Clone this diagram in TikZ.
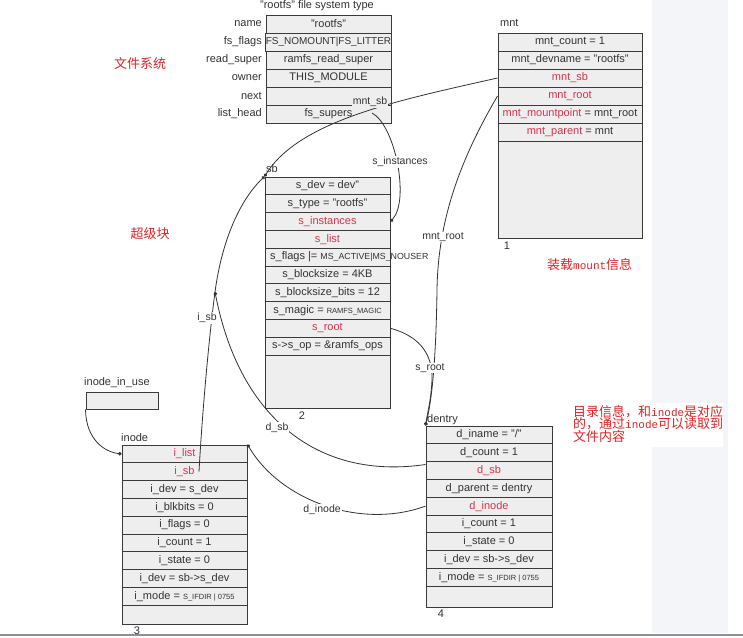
\documentclass[tikz,border=0pt]{standalone}
\usepackage{fontspec}
\setmainfont{Liberation Sans}
\newfontfamily\cjk{Noto Sans CJK SC}
\newfontfamily\monof{Liberation Mono}
\usetikzlibrary{arrows.meta,calc}
\definecolor{cellc}{HTML}{EEEEEE}
\definecolor{linec}{HTML}{3A3A3A}
\definecolor{txtc}{HTML}{333333}
\definecolor{fred}{HTML}{D8344C}
\definecolor{cred}{HTML}{E42222}
\definecolor{panelc}{HTML}{F3F5F8}
\definecolor{connc}{HTML}{333333}
\definecolor{bottomc}{HTML}{8C9099}
\newcommand{\smtxt}[1]{{\fontsize{7.5}{9}\selectfont #1}}
\newcommand{\rf}[1]{\textcolor{fred}{#1}}
\begin{document}
\begin{tikzpicture}[x=1pt,y=-1pt,
 cell/.style={draw=linec, fill=cellc, line width=1pt, minimum height=17.8pt, inner sep=0pt, text=txtc, font=\fontsize{11}{13}\selectfont},
 fscell/.style={cell, minimum width=125pt, minimum height=18pt},
 mntcell/.style={cell, minimum width=144pt, minimum height=18pt},
 sbcell/.style={cell, minimum width=125pt},
 incell/.style={cell, minimum width=125pt},
 decell/.style={cell, minimum width=126pt},
 lbl/.style={text=txtc, inner sep=0pt, font=\fontsize{11}{13}\selectfont},
 clabel/.style={fill=white, text=txtc, inner sep=1pt, font=\fontsize{10.5}{12}\selectfont},
 conn/.style={draw=connc, line width=0.8pt, -{Circle[length=3.5pt]}},
 zh/.style={text=cred, inner sep=0pt, font=\cjk\fontsize{13}{12.5}\selectfont},
]
\useasboundingbox (0,0) rectangle (743,637);
\fill[white] (0,0) rectangle (743,637);
\fill[panelc] (652,0) rectangle (728,633);
\fill[white] (570,403) rectangle (723,447);
\draw[bottomc, line width=2pt] (0,635) -- (743,635);

% ---- file system type table
\node[lbl] (fstitle) at (317,6) {"rootfs" file system type};
\node[fscell] (fs1) at (328.5,24) {"rootfs"};
\node[fscell, font=\fontsize{10}{12}\selectfont] (fs2) at (328.5,42) {FS\_NOMOUNT|FS\_LITTER};
\node[fscell] (fs3) at (328.5,60) {ramfs\_read\_super};
\node[fscell] (fs4) at (328.5,78) {THIS\_MODULE};
\node[fscell] (fs5) at (328.5,96) {};
\node[fscell] (fs6) at (328.5,114) {fs\_supers};
\node[lbl, anchor=east] (fl1) at (262,24) {name};
\node[lbl, anchor=east] (fl2) at (262,42) {fs\_flags};
\node[lbl, anchor=east] (fl3) at (262,60) {read\_super};
\node[lbl, anchor=east] (fl4) at (262,78) {owner};
\node[lbl, anchor=east] (fl5) at (262,96) {next};
\node[lbl, anchor=east] (fl6) at (262,114) {list\_head};

% ---- mnt table
\node[lbl, anchor=west] (mntlbl) at (500,23) {mnt};
\node[mntcell] (mnt1) at (570,42) {mnt\_count = 1};
\node[mntcell] (mnt2) at (570,60) {mnt\_devname = "rootfs"};
\node[mntcell] (mnt3) at (570,78) {\rf{mnt\_sb}};
\node[mntcell] (mnt4) at (570,96) {\rf{mnt\_root}};
\node[mntcell] (mnt5) at (570,114) {\rf{mnt\_mountpoint} = mnt\_root};
\node[mntcell] (mnt6) at (570,132) {\rf{mnt\_parent} = mnt};
\node[mntcell, minimum height=97pt] (mnt7) at (570,189.5) {};
\node[lbl] (mntnum) at (507,246) {1};

% ---- super block table
\node[lbl, anchor=west] (sblbl) at (266,169) {sb};
\node[sbcell] (sb1) at (327.5,185.9) {s\_dev = dev"};
\node[sbcell] (sb2) at (327.5,203.7) {s\_type = "rootfs"};
\node[sbcell] (sb3) at (327.5,221.5) {\rf{s\_instances}};
\node[sbcell] (sb4) at (327.5,239.3) {\rf{s\_list}};
\node[sbcell] (sb5) at (327.5,257.1) {};
\node[lbl, anchor=west] (sb5t) at (270,257.1) {s\_flags |= \smtxt{\fontsize{8.8}{10}\selectfont MS\_ACTIVE|MS\_NOUSER}};
\node[sbcell] (sb6) at (327.5,274.9) {s\_blocksize = 4KB};
\node[sbcell] (sb7) at (327.5,292.7) {s\_blocksize\_bits = 12};
\node[sbcell] (sb8) at (327.5,310.5) {s\_magic = \smtxt{RAMFS\_MAGIC}};
\node[sbcell] (sb9) at (327.5,328.3) {\rf{s\_root}};
\node[sbcell] (sb10) at (327.5,346.1) {s->s\_op = \&ramfs\_ops};
\node[sbcell, minimum height=53pt] (sb11) at (327.5,381.5) {};
\node[lbl] (sbnum) at (302,416) {2};

% ---- inode_in_use
\node[lbl, anchor=west] (iulbl) at (84,383) {inode\_in\_use};
\node[cell, minimum width=72pt, minimum height=17pt] (iu) at (122,400.5) {};

% ---- inode table
\node[lbl, anchor=west] (inlbl) at (121,438) {inode};
\node[incell] (in1) at (184.5,453.9) {\rf{i\_list}};
\node[incell] (in2) at (184.5,471.7) {\rf{i\_sb}};
\node[incell] (in3) at (184.5,489.5) {i\_dev = s\_dev};
\node[incell] (in4) at (184.5,507.3) {i\_blkbits = 0};
\node[incell] (in5) at (184.5,525.1) {i\_flags = 0};
\node[incell] (in6) at (184.5,542.9) {i\_count = 1};
\node[incell] (in7) at (184.5,560.7) {i\_state = 0};
\node[incell] (in8) at (184.5,578.5) {i\_dev = sb->s\_dev};
\node[incell] (in9) at (184.5,596.3) {i\_mode = \smtxt{S\_IFDIR | 0755}};
\node[incell, minimum height=18.8pt] (in10) at (184.5,614.6) {};
\node[lbl] (innum) at (137,631) {3};

% ---- dentry table
\node[lbl, anchor=west] (delbl) at (427,420) {dentry};
\node[decell] (de1) at (489,434.9) {d\_iname = "/"};
\node[decell] (de2) at (489,452.7) {d\_count = 1};
\node[decell] (de3) at (489,470.5) {\rf{d\_sb}};
\node[decell] (de4) at (489,488.3) {d\_parent = dentry};
\node[decell] (de5) at (489,506.1) {\rf{d\_inode}};
\node[decell] (de6) at (489,523.9) {i\_count = 1};
\node[decell] (de7) at (489,541.7) {i\_state = 0};
\node[decell] (de8) at (489,559.5) {i\_dev = sb->s\_dev};
\node[decell] (de9) at (489,577.3) {i\_mode = \smtxt{S\_IFDIR | 0755}};
\node[decell, minimum height=20.8pt] (de10) at (489,596.6) {};
\node[lbl] (denum) at (441,614) {4};

% ---- connectors
\draw[conn] (mnt3.west) .. controls (400,100) and (300,120) .. (sb1.north west);
\draw[conn] ($(fs6.center)+(43.5,-1)$) .. controls (395,125) and (410,200) .. (sb3.east);
\draw[conn] ($(in2.center)+(14.5,0)$) .. controls (203,400) and (210,330) .. (215,292) coordinate (j)
   .. controls (222,240) and (240,200) .. (sb1.north west);
\draw[conn] ($(de3.west)+(0,-6)$) .. controls (320,480) and (240,420) .. (j);
\draw[conn] (de5.west) .. controls (360,530) and (280,500) .. (in1.north east);
\draw[conn] (mnt4.west) .. controls (460,160) and (438,220) .. (437,290)
   .. controls (436,360) and (432,400) .. (de1.north west);
\draw[conn] (sb9.east) .. controls (415,335) and (433,350) .. (432,380)
   .. controls (431,400) and (428,410) .. (de1.north west);
\draw[conn] (iu.south west) .. controls (86,440) and (105,452) .. (in1.west);

% ---- connector labels
\node[clabel, fill=cellc] (lmntsb) at (370,102) {mnt\_sb};
\node[clabel] (lsinst) at (400,162) {s\_instances};
\node[clabel] (lmntroot) at (443,237) {mnt\_root};
\node[clabel] (lsroot) at (430,368) {s\_root};
\node[clabel] (lisb) at (207,318) {i\_sb};
\node[clabel] (ldsb) at (277,428) {d\_sb};
\node[clabel] (ldinode) at (322,510) {d\_inode};

% ---- Chinese notes
\node[zh] (zh1) at (140,64) {文件系统};
\node[zh] (zh2) at (150,234) {超级块};
\node[zh, anchor=west] (zh3) at (547,265) {装载{\monof\fontsize{11}{12}\selectfont mount}信息};
\node[zh, anchor=north west, align=left] (zh4) at (573,405) {目录信息，和{\monof\fontsize{11}{12}\selectfont inode}是对应\\的，通过{\monof\fontsize{11}{12}\selectfont inode}可以读取到\\文件内容};
\end{tikzpicture}
\end{document}
